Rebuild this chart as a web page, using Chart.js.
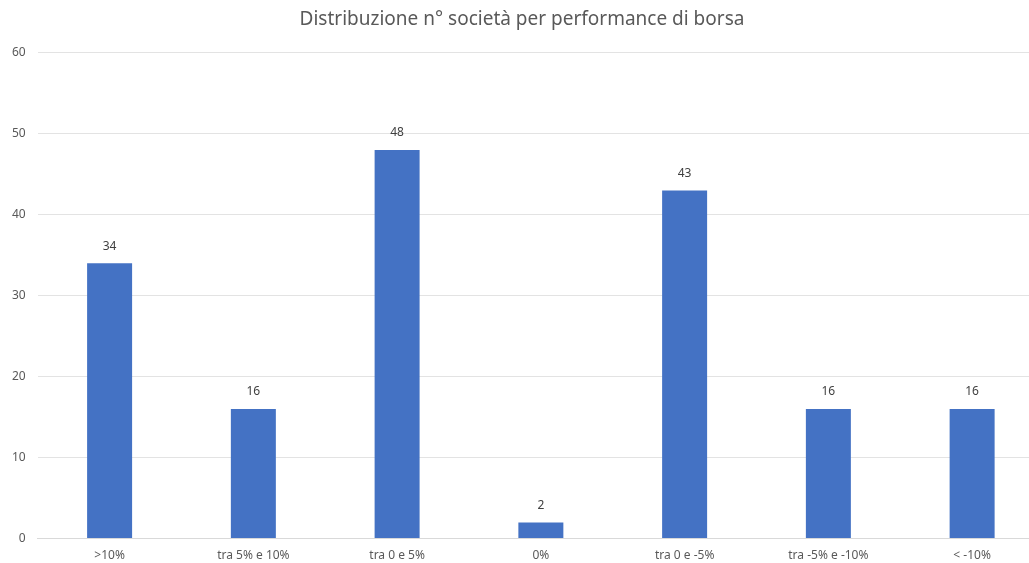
<!DOCTYPE html>
<html>
<head>
<meta charset="utf-8">
<script src="https://cdn.jsdelivr.net/npm/chart.js@4/dist/chart.umd.min.js"></script>
<style>
  html, body { margin: 0; padding: 0; background: #fff; overflow: hidden; }
  #wrap { width: 1029px; height: 563px; overflow: hidden; }
</style>
</head>
<body>
<div id="wrap"><canvas id="chart" width="1044" height="573"></canvas></div>
<script>
// categorie e valori
const categorie = ['>10%', 'tra 5% e 10%', 'tra 0 e 5%', '0%', 'tra 0 e -5%', 'tra -5% e -10%', '< -10%']
const numSocieta = [34, 16, 48, 2, 43, 16, 16]
const titolo = 'Distribuzione n° società per performance di borsa'

const FONT = "'Noto Sans', sans-serif"

// etichette sopra le barre
const valueLabels = {
  id: 'valueLabels',
  afterDatasetsDraw(chart) {
    const ctx = chart.ctx
    const meta = chart.getDatasetMeta(0)
    ctx.save()
    ctx.font = '12px ' + FONT
    ctx.fillStyle = '#404040'
    ctx.textAlign = 'center'
    ctx.textBaseline = 'middle'
    meta.data.forEach((bar, i) => {
      ctx.fillText(String(numSocieta[i]), bar.x, bar.y - 17)
    })
    ctx.restore()
  }
}

const chart = new Chart(document.getElementById('chart'), {
  type: 'bar',
  data: {
    labels: categorie,
    datasets: [{
      data: numSocieta,
      backgroundColor: '#4472C4',
      borderWidth: 0,
      categoryPercentage: 1,
      barPercentage: 0.313
    }]
  },
  options: {
    responsive: false,
    animation: false,
    layout: { padding: { left: 0, right: 0, top: 0, bottom: 0 } },
    plugins: {
      legend: { display: false },
      tooltip: { enabled: false },
      title: {
        display: true,
        text: titolo,
        color: '#595959',
        font: { family: FONT, size: 19, weight: 'normal' },
        padding: { top: 8, bottom: 22 }
      }
    },
    scales: {
      x: {
        grid: { display: false, drawTicks: false },
        border: { display: true, color: '#D9D9D9' },
        ticks: { color: '#595959', font: { family: FONT, size: 12 }, padding: 10, maxRotation: 0 }
      },
      y: {
        min: 0,
        max: 60,
        grid: { color: '#E3E3E3', drawTicks: false },
        border: { display: false },
        ticks: { stepSize: 10, color: '#595959', font: { family: FONT, size: 12 }, padding: 12 }
      }
    }
  },
  plugins: [valueLabels]
})
</script>
</body>
</html>
